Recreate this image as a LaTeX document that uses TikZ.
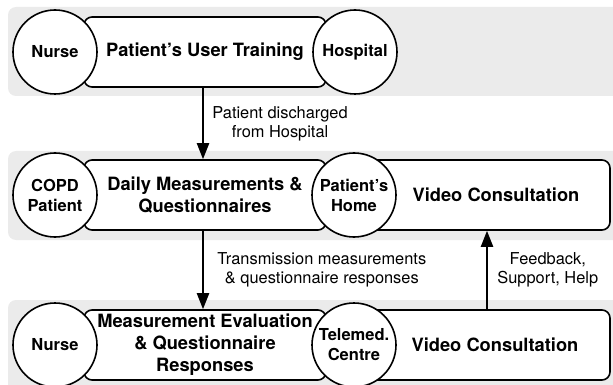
\documentclass[tikz,border=0pt]{standalone}
\usepackage{fontspec}
\setmainfont{TeX Gyre Heros}
\usetikzlibrary{arrows.meta, positioning}

\begin{document}
\begin{tikzpicture}[x = 1pt, y = -1pt,
    fascia/.style = {fill = black!8, rounded corners = 8pt},
    riquadro/.style = {draw, line width = 1.6pt, fill = white, rounded corners = 8pt, minimum height = 70pt, inner sep = 0pt, align = center, font = \bfseries\fontsize{18.3}{22}\selectfont},
    testo/.style = {align = center, font = \bfseries\fontsize{18.3}{22}\selectfont},
    cerchio/.style = {draw, circle, line width = 1.6pt, fill = white, minimum size = 84pt, inner sep = 0pt, align = center, font = \bfseries\fontsize{16.5}{20}\selectfont},
    freccia/.style = {-{Triangle[length = 16pt, width = 12pt]}, line width = 2.2pt},
    nota/.style = {align = center, font = \fontsize{16.4}{19}\selectfont}]
    \useasboundingbox (0,0) rectangle (613,385);
    % Fasce
    \fill[fascia] (8,7) rectangle (625,96);
    \fill[fascia] (8,151) rectangle (625,240);
    \fill[fascia] (8,300) rectangle (625,395);
    % Riga 1
    \node[riquadro, minimum width = 242pt] (ut) at (205,52) {Patient's User Training};
    \node[cerchio] (n1) at (55,52) {Nurse};
    \node[cerchio] (h1) at (355,52) {Hospital};
    % Riga 2
    \node[riquadro, minimum width = 242pt] (dm) at (205,195) {Daily Measurements \&\\Questionnaires};
    \node[riquadro, minimum width = 270pt] (vc2) at (475,195) {};
    \node[testo] (vt2) at (496,195) {Video Consultation};
    \node[cerchio] (cp) at (55,195) {COPD\\Patient};
    \node[cerchio] (ph) at (354,195) {Patient's\\Home};
    % Riga 3
    \node[riquadro, minimum width = 242pt] (me) at (205,345) {Measurement Evaluation\\\& Questionnaire\\Responses};
    \node[riquadro, minimum width = 270pt] (vc3) at (475,345) {};
    \node[testo] (vt3) at (495,345) {Video Consultation};
    \node[cerchio] (n3) at (55,345) {Nurse};
    \node[cerchio] (tc) at (354,345) {Telemed.\\Centre};
    % Frecce
    \draw[freccia] ([xshift = -2pt]ut.south) -- ([xshift = -2pt]dm.north) node[midway, right = 5pt, nota] (l1) {Patient discharged\\from Hospital};
    \draw[freccia] ([xshift = -2pt]dm.south) -- ([xshift = -2pt]me.north) node[midway, right = 10pt, nota] (l2) {Transmission measurements\\\& questionnaire responses};
    \draw[freccia] ([xshift = 12pt]vc3.north) -- ([xshift = 12pt]vc2.south) node[midway, right = 6pt, nota] (l3) {Feedback,\\Support, Help};
\end{tikzpicture}
\end{document}
